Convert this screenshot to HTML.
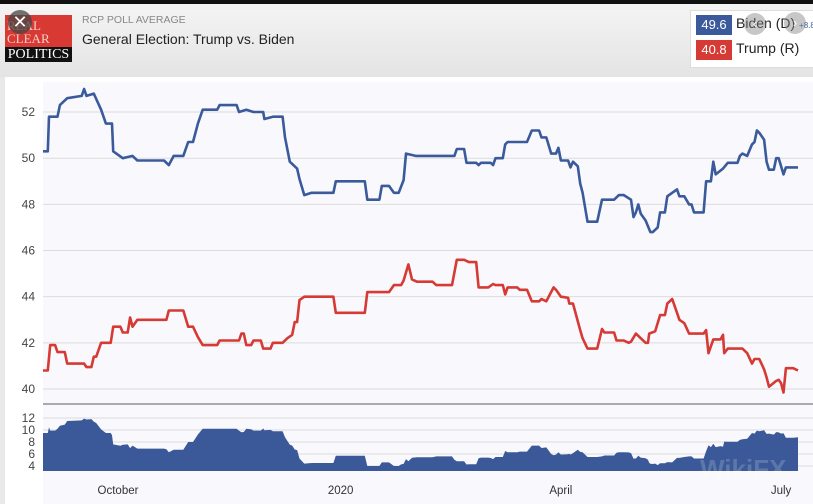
<!DOCTYPE html>
<html><head><meta charset="utf-8">
<style>
body{margin:0;width:813px;height:504px;overflow:hidden;font-family:"Liberation Sans",sans-serif;background:#e9e9e9;position:relative}
.abs{position:absolute}
</style></head>
<body>
<div class="abs" style="left:0;top:0;width:813px;height:4px;background:#111"></div>
<div class="abs" style="left:0;top:4px;width:813px;height:73px;background:linear-gradient(#f4f4f4,#e4e4e4)"></div>
<div class="abs" style="left:5px;top:15px;width:67px;height:47px">
  <div style="position:absolute;left:0;top:0;width:67px;height:32px;background:#d83a33;color:#f4d0cc;font-family:'Liberation Serif',serif;font-size:13px;line-height:13px;padding:4px 0 0 2px;box-sizing:border-box">REAL<br>CLEAR</div>
  <div style="position:absolute;left:0;top:32px;width:67px;height:15px;background:#111;color:#fff;font-family:'Liberation Serif',serif;font-size:14px;line-height:15px;text-align:center">POLITICS</div>
</div>
<div class="abs" style="left:8px;top:10px;width:24px;height:24px;border-radius:50%;background:rgba(70,70,70,0.75);color:#fff;font-size:18px;line-height:24px;text-align:center">✕</div>
<div class="abs" style="left:82px;top:14px;font-size:10.5px;color:#888">RCP POLL AVERAGE</div>
<div class="abs" style="left:82px;top:31px;font-size:14px;color:#222">General Election: Trump vs. Biden</div>
<div class="abs" style="left:690px;top:10px;width:130px;height:56px;background:#fff;border:1px solid #ddd">
  <div style="position:absolute;left:5px;top:4px;width:36px;height:20px;background:#3a5a9c;color:#fff;font-size:13px;line-height:20px;text-align:center">49.6</div>
  <div style="position:absolute;left:45px;top:4px;font-size:14px;color:#222">Biden (D) <span style="font-size:8px;color:#3a5a9c">+8.8</span></div>
  <div style="position:absolute;left:5px;top:29px;width:36px;height:20px;background:#d63a35;color:#fff;font-size:13px;line-height:20px;text-align:center">40.8</div>
  <div style="position:absolute;left:45px;top:29px;font-size:14px;color:#222">Trump (R)</div>
</div>
<div class="abs" style="left:744px;top:13px;width:22px;height:22px;border-radius:50%;background:rgba(130,130,130,0.45);color:#fff;font-size:13px;line-height:22px;text-align:center">‹</div>
<div class="abs" style="left:784px;top:12px;width:22px;height:22px;border-radius:50%;background:rgba(130,130,130,0.45);color:#fff;font-size:13px;line-height:22px;text-align:center">›</div>
<div class="abs" style="left:5px;top:77px;width:808px;height:427px;background:#fff"></div>
<svg class="abs" style="left:0;top:0" width="813" height="504" id="chart"></svg>
<script>
const bidenDays=[-31,-29,-28.5,-25,-24,-21,-15,-14,-13,-10,-7,-5,-2.5,-2,2,6,8,19,21,23,27,29,31,33,35,41,42,49,50,53,56,60,60.5,64,68,69,71,74,75,77,80,89,90,102,103,108,109,112,114,116,118,119,123,125,139,140,143,144,148,149,150,154,155,156,159,160,161,169,171,174,175,177,179,181,182,183,186,187,188,190,191,192,194,198,200,205,207,209,212,213,214,215,216,218,220,221,223,224,226,227,229,231,232,234,236,237,238,242,243,245,246,247,250,252,256,257,258,260,262,263,264,265,267,268,269,271,272,273,275,276,281];
const bidenVals=[50.3,50.3,51.8,51.8,52.3,52.6,52.7,53.0,52.7,52.8,52.1,51.5,51.5,50.3,50.0,50.1,49.9,49.9,49.7,50.1,50.1,50.7,50.7,51.5,52.1,52.1,52.3,52.3,52.0,52.1,52.0,52.0,51.7,51.8,51.8,50.9,49.85,49.55,49.1,48.4,48.5,48.5,49.0,49.0,48.2,48.2,48.8,48.8,48.5,48.5,49.05,50.2,50.1,50.1,50.1,50.4,50.4,49.8,49.8,49.7,49.8,49.8,49.7,50.0,50.0,50.6,50.7,50.7,51.2,51.2,50.9,50.9,50.2,50.2,50.45,49.9,49.9,49.6,49.85,49.65,48.9,48.5,47.25,47.25,48.2,48.2,48.4,48.4,48.2,47.45,47.65,48.0,47.6,47.3,46.8,46.8,47.0,47.65,47.65,48.35,48.5,48.65,48.35,48.35,48.0,48.0,47.65,47.65,49.0,49.0,49.85,49.3,49.55,49.8,49.8,50.1,50.2,50.1,50.6,50.7,51.2,51.1,50.8,49.85,49.5,49.5,50.0,50.0,49.3,49.6,49.6];
const trumpDays=[-31,-29,-28,-26,-25,-22,-21,-14,-13,-11,-10,-9,-7,-3,-2,1,2,4,5,6,8,20,21,27,29,31,33,35,41,42,50,51,52,53,55,56,59,60,63,64,68,70,72,73,74,75,77,89,90,102,103,112,114,117,118,120,121.5,123.5,130,131.5,138,140,143,145,148,149,153,155,156,159,160,161,165,166,169,171,174,175,177,180,181,183,186,186.5,188,191,192,194,198,200,201,205,206,209,211,212,214,216,218,219,219.5,222,224,226,227,229,231,232,234,236,242,243,244,246,248,249,250,250.5,252,258,260,262,263,265,267,268,269,272,273,274,275,276,279,281];
const trumpVals=[40.8,40.8,41.9,41.9,41.6,41.6,41.1,41.1,40.95,40.95,41.4,41.4,42.0,42.0,42.7,42.7,42.45,42.45,43.1,42.7,43.0,43.0,43.4,43.4,42.7,42.7,42.25,41.9,41.9,42.1,42.1,42.4,42.4,41.9,41.9,42.1,42.1,41.75,41.75,42.0,42.0,42.2,42.35,42.9,42.9,43.85,44.0,44.0,43.3,43.3,44.2,44.2,44.5,44.5,44.7,45.4,44.75,44.65,44.65,44.5,44.5,45.6,45.6,45.5,45.5,44.4,44.4,44.55,44.5,44.5,44.1,44.4,44.4,44.3,44.3,43.8,43.8,43.9,43.8,44.4,44.3,44.0,43.95,43.7,43.7,42.55,42.2,41.75,41.75,42.6,42.45,42.45,42.1,42.1,42.0,42.05,42.4,42.2,42.0,42.0,42.4,42.5,43.2,43.2,43.7,43.9,43.3,43.0,42.85,42.4,42.4,42.55,41.55,42.15,42.15,42.15,42.35,41.55,41.75,41.75,41.55,41.1,41.3,41.3,40.85,40.5,40.1,40.35,40.4,40.25,39.85,40.9,40.9,40.8];
const mainTicks=[40,42,44,46,48,50,52];
const spreadTicks=[4,6,8,10,12];
const xTickLabels=["October","2020","April","July"];
const xTickDays=[0,92,183,274];

const NS="http://www.w3.org/2000/svg";
const svg=document.getElementById('chart');
const X=d=>118+d*2.42;
const Y=v=>389-(v-40)*23.08;
const YS=v=>466-(v-4)*6;
const SB=471;
function mk(tag,attrs){const e=document.createElementNS(NS,tag);for(const k in attrs)e.setAttribute(k,attrs[k]);svg.appendChild(e);return e;}
function interp(days,vals,d){if(d<=days[0])return vals[0];for(let i=1;i<days.length;i++){if(d<=days[i]){const t=(d-days[i-1])/(days[i]-days[i-1]||1);return vals[i-1]+t*(vals[i]-vals[i-1]);}}return vals[vals.length-1];}

let bg=mk('rect',{x:43,y:82,width:770,height:422,fill:'#f9f9fd'});



mainTicks.forEach(t=>{
  const g=mk('line',{x1:43,x2:813,y1:Y(t),y2:Y(t),stroke:'#dcdcdc','stroke-width':1});
  
  
  const l=mk('text',{x:35,y:Y(t)+4,'text-anchor':'end','font-size':12,fill:'#444'});
  l.textContent=t;
  
  
});
spreadTicks.forEach(t=>{
  const g=mk('line',{x1:43,x2:813,y1:YS(t),y2:YS(t),stroke:'#dcdcdc','stroke-width':1});
  
  
  const l=mk('text',{x:35,y:YS(t)+4,'text-anchor':'end','font-size':12,fill:'#444'});
  l.textContent=t;
  
  
});
let sep=mk('line',{x1:43,x2:813,y1:404,y2:404,stroke:'#aaa','stroke-width':2});



const allDays=[...new Set(bidenDays.concat(trumpDays))].sort((a,b)=>a-b);
let pts=allDays.map(d=>X(d).toFixed(1)+','+YS(interp(bidenDays,bidenVals,d)-interp(trumpDays,trumpVals,d)).toFixed(1));
let area=mk('polygon',{points:X(allDays[0])+','+SB+' '+pts.join(' ')+' '+X(allDays[allDays.length-1])+','+SB,fill:'#3b5998'});



function line(days,vals,color,name){
  const p=mk('polyline',{points:days.map((d,i)=>X(d).toFixed(1)+','+Y(vals[i]).toFixed(1)).join(' '),fill:'none',stroke:color,'stroke-width':2.6,'stroke-linejoin':'round'});
  
  
}
line(bidenDays,bidenVals,'#3a5a9c','biden-line');
line(trumpDays,trumpVals,'#d63a35','trump-line');

xTickLabels.forEach((t,i)=>{
  const l=mk('text',{x:X(xTickDays[i]),y:494,'text-anchor':'middle','font-size':11.5,fill:'#333'});
  l.textContent=t;
  
  
});
let wm=mk('text',{x:700,y:478,'font-size':26,fill:'#ffffff','fill-opacity':0.18,'font-weight':'bold'});
wm.textContent='WikiFX';


</script>
</body></html>
